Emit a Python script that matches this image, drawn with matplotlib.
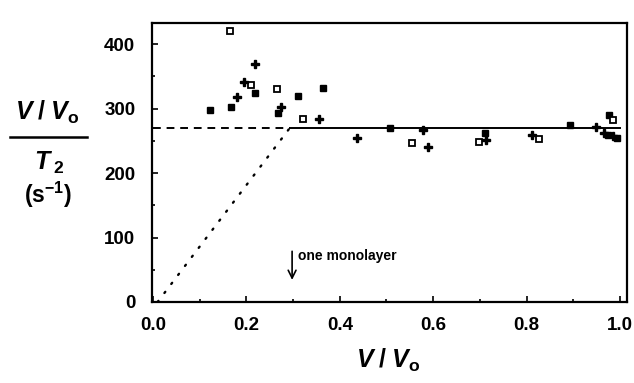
import numpy as np
import matplotlib
matplotlib.use("Agg")
import matplotlib.pyplot as plt
from matplotlib.lines import Line2D

plt.rcParams['font.family'] = ['Liberation Sans', 'DejaVu Sans']
plt.rcParams['font.weight'] = 'bold'
plt.rcParams['mathtext.fontset'] = 'custom'
plt.rcParams['mathtext.rm'] = 'Liberation Sans:bold'
plt.rcParams['mathtext.it'] = 'Liberation Sans:italic:bold'
plt.rcParams['mathtext.bf'] = 'Liberation Sans:bold'

# filled squares
fs_x = [0.122, 0.168, 0.219, 0.268, 0.311, 0.364, 0.507, 0.712, 0.893, 0.977, 0.975, 0.993]
fs_y = [298, 303, 325, 294, 319, 332, 270, 262, 274, 290, 259, 254]
# open squares
os_x = [0.165, 0.211, 0.265, 0.322, 0.555, 0.699, 0.827, 0.984]
os_y = [420, 337, 330, 284, 247, 248, 253, 283]
# plus markers
pl_x = [0.181, 0.196, 0.219, 0.274, 0.355, 0.437, 0.579, 0.588, 0.714, 0.812, 0.948, 0.966, 0.984]
pl_y = [318, 342, 370, 303, 284, 255, 267, 240, 252, 259, 271, 263, 257]

plateau = 270
monolayer = 0.293

fig = plt.figure(figsize=(6.34, 3.83), dpi=100)
ax = fig.add_axes([0.2397, 0.2115, 0.7493, 0.7285])

ax.plot([0, monolayer], [plateau, plateau], color='black', lw=1.4, ls=(0, (4, 3)))
ax.plot([monolayer, 1.0], [plateau, plateau], color='black', lw=1.4)
ax.plot([0.01, monolayer], [0, plateau], color='black', lw=1.7, ls=(0, (0.6, 4.2)),
        dash_capstyle='round')

ax.plot(fs_x, fs_y, 's', color='black', ms=5, ls='none')
ax.plot(os_x, os_y, 's', mfc='white', mec='black', mew=1.3, ms=5, ls='none')
ax.plot(pl_x, pl_y, 'P', color='black', ms=5.3, ls='none')

ax.annotate('', xy=(0.298, 30), xytext=(0.298, 83),
            arrowprops=dict(arrowstyle='->', color='black', lw=1.2, mutation_scale=14))
ax.text(0.31, 72, 'one monolayer', fontsize=10, fontweight='bold', va='center', ha='left')

ax.set_xlim(-0.002, 1.015)
ax.set_ylim(0, 433)
ax.set_xticks(np.arange(0, 1.01, 0.2))
ax.set_xticks(np.arange(0.1, 1.0, 0.2), minor=True)
ax.set_yticks([0, 100, 200, 300, 400])
ax.set_yticks([50, 150, 250, 350], minor=True)
ax.set_xticklabels(['0.0', '0.2', '0.4', '0.6', '0.8', '1.0'])
ax.tick_params(which='both', direction='in', labelsize=13.5, width=1.2)
ax.tick_params(which='major', length=4)
ax.tick_params(which='minor', length=2)
ax.tick_params(axis='y', pad=12)
ax.tick_params(axis='x', pad=11)
for lab in ax.get_xticklabels() + ax.get_yticklabels():
    lab.set_fontweight('bold')
for s in ax.spines.values():
    s.set_linewidth(1.6)

# y label as a stacked fraction
fig.text(47 / 634, 1 - 112 / 383, r'$V\;/\;V_{\mathrm{o}}$', fontsize=18, ha='center', va='center')
fig.add_artist(Line2D([10 / 634, 87 / 634], [1 - 137 / 383, 1 - 137 / 383],
                      color='black', lw=1.8, transform=fig.transFigure))
fig.text(49 / 634, 1 - 163 / 383, r'$T_{\;\mathrm{2}}$', fontsize=18, ha='center', va='center')
fig.text(48 / 634, 1 - 195 / 383, r'(s$^{\mathrm{-1}}$)', fontsize=16.5, ha='center', va='center')

fig.text(388 / 634, 1 - 360 / 383, r'$V\;/\;V_{\mathrm{o}}$', fontsize=18, ha='center', va='center')

fig.savefig('out.png', dpi=100)
